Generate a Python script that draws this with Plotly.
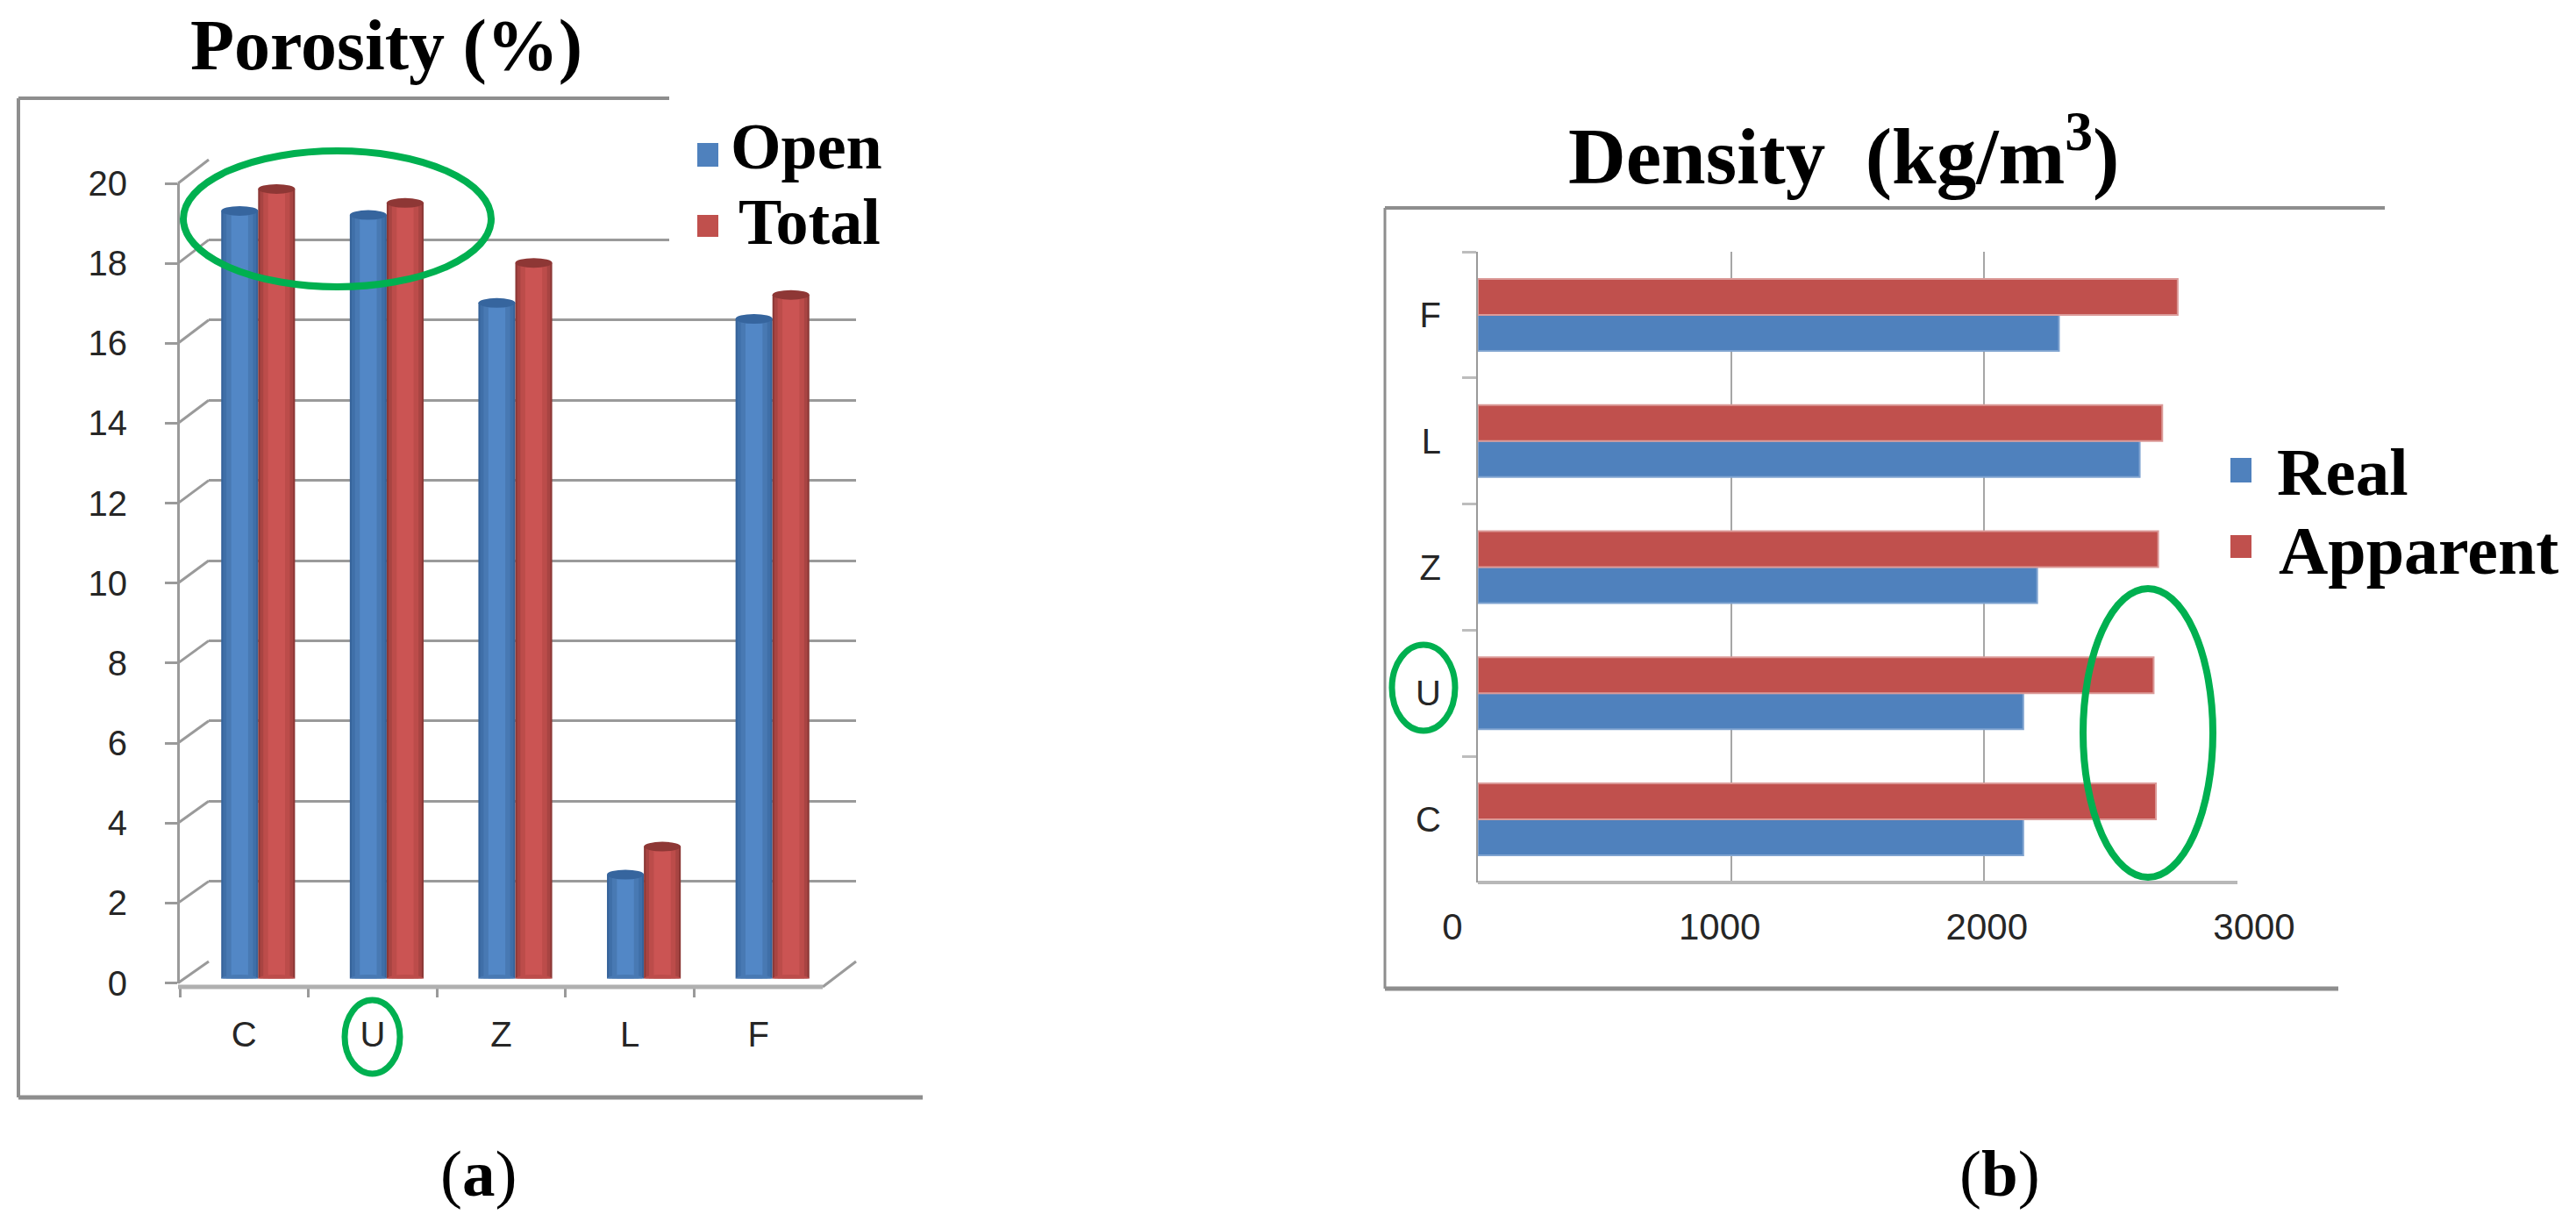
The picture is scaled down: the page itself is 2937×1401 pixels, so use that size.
import plotly.graph_objects as go

W, H = 2937, 1401

# ---------- data ----------
categories = ["C", "U", "Z", "L", "F"]
porosity_open = [19.2, 19.1, 16.9, 2.6, 16.5]
porosity_total = [19.75, 19.4, 17.9, 3.3, 17.1]
porosity_ticks = list(range(0, 21, 2))

density_real = [2154, 2154, 2209, 2614, 2295]
density_apparent = [2678, 2669, 2687, 2703, 2764]
density_ticks = [0, 1000, 2000, 3000]

BLUE, RED = "#4F81BD", "#C0504D"
GREEN = "#00B050"
GREY = "#8E8E8E"
TXT = "#262626"
SERIF = "Liberation Serif"
SANS = "Liberation Sans"


def X(p):
    return p / W


def Y(p):
    return 1 - p / H


def xdom(a, b):
    return [X(a), X(b)]


def ydom(top, bottom):
    return [Y(bottom), Y(top)]


fig = go.Figure()
shapes, annots = [], []


def line(x0, y0, x1, y1, color=GREY, width=3):
    shapes.append(dict(type="line", xref="paper", yref="paper", x0=X(x0), x1=X(x1),
                       y0=Y(y0), y1=Y(y1), line=dict(color=color, width=width), layer="above"))


def rect(x0, y0, x1, y1, color):
    shapes.append(dict(type="rect", xref="paper", yref="paper", x0=X(x0), x1=X(x1),
                       y0=Y(y0), y1=Y(y1), fillcolor=color, line=dict(width=0), layer="above"))


def ellipse(x0, y0, x1, y1, width=8):
    shapes.append(dict(type="circle", xref="paper", yref="paper", x0=X(x0), x1=X(x1),
                       y0=Y(y0), y1=Y(y1), line=dict(color=GREEN, width=width), layer="above"))


def text(x, baseline, s, size, anchor="center", bold=True):
    annots.append(dict(xref="paper", yref="paper", x=X(x), y=Y(baseline - 0.27 * size), text=f"<b>{s}</b>" if bold else s,
                       showarrow=False, xanchor=anchor, yanchor="middle",
                       font=dict(family=SERIF, size=size, color="#000000")))


def dummy(xa, ya, xs, ys):
    fig.add_trace(go.Scatter(x=xs, y=ys, mode="markers", marker=dict(opacity=0, size=1),
                             xaxis=xa, yaxis=ya, showlegend=False, hoverinfo="skip"))


# ---------- left chart: back wall (x/y), front axes (x2/y2), cylinders (x3/y3) ----------
BACK_TOP, BACK_ZERO = 182, 1096
FRONT_TOP, FRONT_ZERO = 209, 1120.5
BASE_ZERO = 1115.5
UNIT = (FRONT_ZERO - FRONT_TOP) / 20
BAR_RANGE = 22.0

dummy("x", "y", [0, 1], [0, 20])
dummy("x2", "y2", categories, [0] * 5)

layers_blue = [(1.00, "#36639A"), (0.90, "#3F6FA8"), (0.72, "#4879B3"), (0.46, "#5287C6")]
layers_red = [(1.00, "#8C3836"), (0.90, "#A84442"), (0.72, "#BC4C4A"), (0.46, "#CB5453")]
BW = 0.287

for vals, layers, start, name in ((porosity_open, layers_blue, -BW, "Open"),
                                  (porosity_total, layers_red, 0.0, "Total")):
    for frac, col in layers:
        w = BW * frac
        fig.add_trace(go.Bar(x=categories, y=vals, width=w, offset=start + (BW - w) / 2,
                             marker=dict(color=col, line=dict(width=0)), xaxis="x3", yaxis="y3",
                             name=name, showlegend=False, hoverinfo="skip"))

cap_h = 5.5 / UNIT
for vals, start, cap, low in ((porosity_open, -BW, "#36659E", "#4879B3"),
                              (porosity_total, 0.0, "#8E3735", "#BC4C4A")):
    for i, v in enumerate(vals):
        x0, x1 = i + start, i + start + BW
        shapes.append(dict(type="circle", xref="x3", yref="y3", x0=x0, x1=x1, y0=v - cap_h, y1=v + cap_h,
                           fillcolor=cap, line=dict(width=0), layer="above"))
        shapes.append(dict(type="circle", xref="x3", yref="y3", x0=x0, x1=x1, y0=-cap_h * 0.8, y1=cap_h * 0.8,
                           fillcolor=low, line=dict(width=0), layer="above"))

# white legend area hides the back wall there
rect(763, 100, 1060, 322, "#FFFFFF")

# frame
line(21, 112, 763, 112, GREY, 4)
line(21, 112, 21, 1251, GREY, 4)
line(21, 1251, 1052, 1251, GREY, 5)

# depth connectors from the front ticks to the back wall
back_unit = (BACK_ZERO - BACK_TOP) / 20
for t in porosity_ticks:
    line(203, FRONT_ZERO - t * UNIT, 238, BACK_ZERO - t * back_unit, "#9A9A9A", 3)
line(938, 1125, 976, BACK_ZERO, "#9A9A9A", 3)
line(203, 1125, 938, 1125, "#B0B0B0", 5)

ellipse(209, 172, 560, 327, 8)
ellipse(393, 1140, 456, 1224, 7)

rect(795, 163, 819, 190, BLUE)
rect(795, 245, 819, 270, RED)
text(441, 74, "Porosity\u00a0(%)", 82)
text(831, 187, "Open", 74, "left")
text(840, 273, "Total", 74, "left")
text(545, 1358, "(<b>a</b>)", 75, bold=False)

# ---------- right chart: bars (x4/y4), value labels (x5/y5) ----------
BH = 0.285
fig.add_trace(go.Bar(y=categories, x=density_real, orientation="h", width=BH, offset=-BH,
                     marker=dict(color="#4F81BD", line=dict(width=2, color="#7FA3D0")), xaxis="x4", yaxis="y4",
                     name="Real", showlegend=False, hoverinfo="skip"))
fig.add_trace(go.Bar(y=categories, x=density_apparent, orientation="h", width=BH, offset=0,
                     marker=dict(color="#C0504D", line=dict(width=2, color="#DB9A98")), xaxis="x4", yaxis="y4",
                     name="Apparent", showlegend=False, hoverinfo="skip"))
dummy("x5", "y5", density_ticks, [0] * 4)

rect(2530, 466, 2930, 684, "#FFFFFF")

line(1579, 237, 2719, 237, GREY, 4)
line(1579, 237, 1579, 1127, GREY, 3)
line(1579, 1127, 2666, 1127, GREY, 5)
line(1685, 1006, 2551, 1006, "#B8B8B8", 4)

ellipse(2375, 671, 2523, 1000, 8)
ellipse(1587, 735, 1659, 833, 7)

rect(2543, 522, 2567, 550, BLUE)
rect(2543, 610, 2567, 636, RED)
text(2102, 196, "Density\u00a0\u00a0(kg/m<sup>3</sup>)", 91)
text(2594, 559, "Real", 77, "left")
text(2596, 649, "Apparent", 78, "left")
text(2280, 1358, "(<b>b</b>)", 75, bold=False)

fig.update_layout(
    template="none",
    width=W, height=H, margin=dict(l=0, r=0, t=0, b=0, pad=0), autosize=False,
    paper_bgcolor="#FFFFFF", plot_bgcolor="rgba(0,0,0,0)", barmode="overlay", showlegend=False,
    shapes=shapes, annotations=annots,
    # back wall grid
    xaxis=dict(domain=xdom(238, 976), range=[0, 1], visible=False, anchor="y"),
    yaxis=dict(domain=ydom(BACK_TOP, BACK_ZERO), range=[0, 20], tickvals=porosity_ticks, showticklabels=False,
               ticks="", showgrid=True, gridcolor="#9A9A9A", gridwidth=3, zeroline=False, showline=False, anchor="x"),
    # front axes
    xaxis2=dict(domain=xdom(205, 938), type="category", categoryorder="array", categoryarray=categories,
                range=[-0.5, 4.5], tickson="boundaries", ticks="outside", ticklen=11, tickwidth=3, tickcolor="#9A9A9A",
                showgrid=False, showline=False, zeroline=False, anchor="free", position=Y(1125),
                tickfont=dict(family=SANS, size=40, color=TXT), ticklabelstandoff=27),
    yaxis2=dict(domain=ydom(FRONT_TOP, FRONT_ZERO), range=[0, 20], tickvals=porosity_ticks, ticks="outside",
                ticklen=14, tickwidth=3, tickcolor="#9A9A9A", showgrid=False, zeroline=False, showline=True,
                linecolor="#9A9A9A", linewidth=3, anchor="x2",
                tickfont=dict(family=SANS, size=40, color=TXT), ticklabelstandoff=35),
    # cylinders
    xaxis3=dict(domain=xdom(221, 954), type="category", categoryorder="array", categoryarray=categories,
                range=[-0.5, 4.5], visible=False, anchor="y3"),
    yaxis3=dict(domain=ydom(BASE_ZERO - BAR_RANGE * UNIT, BASE_ZERO), range=[0, BAR_RANGE], visible=False, anchor="x3"),
    # density bars
    xaxis4=dict(domain=xdom(1685, 2551), range=[0, 3000], tickvals=density_ticks, showticklabels=False, ticks="",
                showgrid=True, gridcolor="#A6A6A6", gridwidth=2, zeroline=False, showline=False, anchor="y4"),
    yaxis4=dict(domain=ydom(287, 1006), type="category", categoryorder="array", categoryarray=categories,
                range=[-0.5, 4.5], tickson="boundaries", ticks="outside", ticklen=16, tickwidth=3, tickcolor="#BDBDBD",
                showgrid=False, showline=True, linecolor="#9A9A9A", linewidth=2, zeroline=False, anchor="x4",
                tickfont=dict(family=SANS, size=40, color=TXT), ticklabelstandoff=32),
    # density value labels
    xaxis5=dict(domain=xdom(1656, 2570), range=[0, 3000], tickvals=density_ticks, ticks="", showgrid=False,
                showline=False, zeroline=False, anchor="y5",
                tickfont=dict(family=SANS, size=42, color=TXT), ticklabelstandoff=22),
    yaxis5=dict(domain=ydom(287, 1006), range=[0, 1], visible=False, anchor="x5"),
)

fig.write_html("out.html", config=dict(displayModeBar=False), post_script="document.body.style.margin='0';")
